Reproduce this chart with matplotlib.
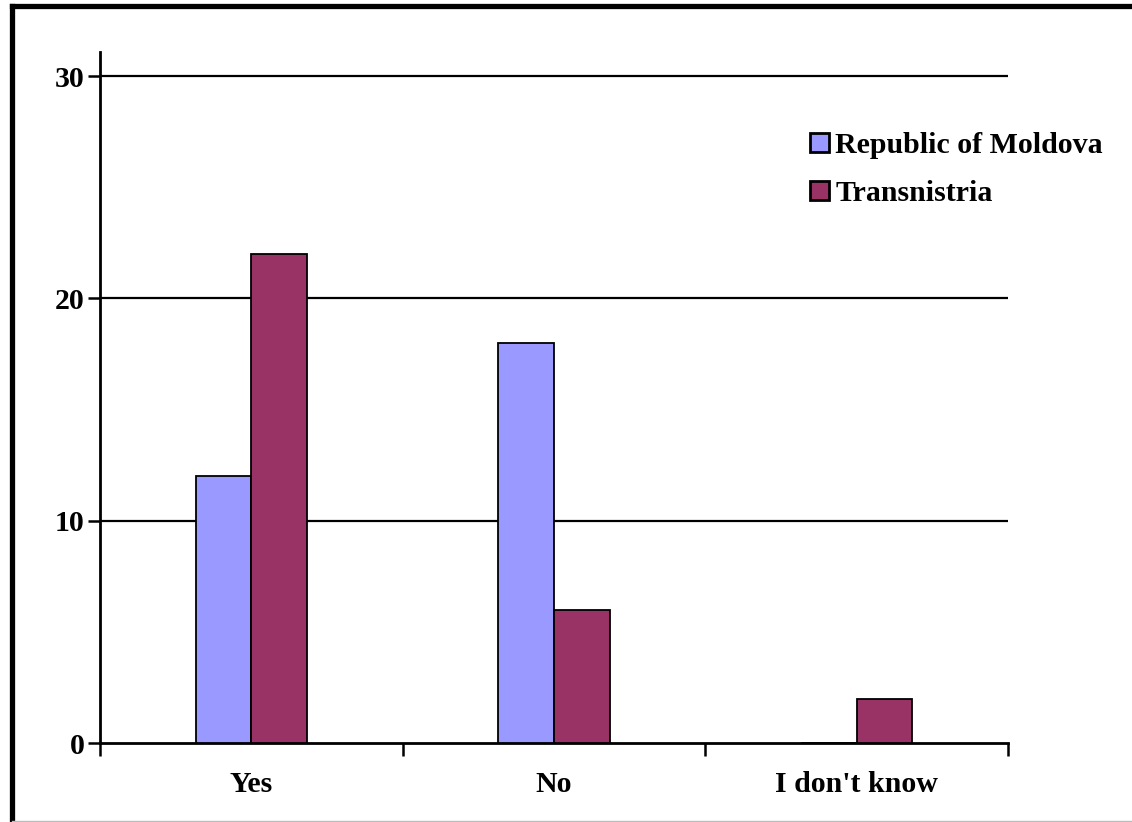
import matplotlib
matplotlib.use("Agg")
import matplotlib.pyplot as plt
from matplotlib.lines import Line2D
import numpy as np

categories = ["Yes", "No", "I don't know"]
series_names = ["Republic of Moldova", "Transnistria"]
moldova = [12, 18, 0]
transnistria = [22, 6, 2]
yticks = [0, 10, 20, 30]
colors = ["#9999FF", "#993366"]

plt.rcParams['font.family'] = ['Liberation Serif', 'DejaVu Serif']
plt.rcParams['font.weight'] = 'bold'

W, H = 1132, 822
fig = plt.figure(figsize=(W / 100, H / 100), dpi=100)
ax = fig.add_axes([100 / W, 1 - 743 / H, (1008 - 100) / W, (743 - 52) / H])

x = np.arange(len(categories))
bw = 0.184
ax.bar(x - bw / 2, moldova, bw, color=colors[0], edgecolor='black', linewidth=1.3,
       label=series_names[0], zorder=3)
ax.bar(x + bw / 2, transnistria, bw, color=colors[1], edgecolor='black', linewidth=1.3,
       label=series_names[1], zorder=3)

fs = 21.5
ax.set_xlim(-0.5, 2.5)
ax.set_ylim(0, 31.08)
ax.set_yticks(yticks)
ax.set_yticklabels([str(v) for v in yticks], fontsize=fs, fontweight='bold')
for v in yticks[1:]:
    ax.axhline(v, color='black', linewidth=1.6, zorder=1)

ax.set_xticks([-0.5, 0.5, 1.5, 2.5])
ax.set_xticklabels([])
ax.set_xticks(x, minor=True)
ax.set_xticklabels(categories, minor=True, fontsize=fs, fontweight='bold')
ax.tick_params(axis='x', which='minor', length=0, pad=20)
ax.tick_params(axis='x', which='major', direction='out', length=9, width=1.8)
ax.tick_params(axis='y', direction='out', length=9, width=1.8, pad=2)

for s in ['top', 'right']:
    ax.spines[s].set_visible(False)
for s in ['left', 'bottom']:
    ax.spines[s].set_linewidth(2.0)
ax.spines['left'].set_bounds(0, 31.08)

leg = ax.legend(loc='upper left', bbox_to_anchor=(810 / W, 1 - 132 / H),
                bbox_transform=fig.transFigure, frameon=False,
                prop={'family': 'Liberation Serif', 'weight': 'bold', 'size': fs},
                handlelength=0.62, handleheight=0.62, handletextpad=0.22,
                labelspacing=0.7, borderpad=0, borderaxespad=0)
for h in leg.legend_handles:
    h.set_linewidth(2.0)

# outer border
fig.add_artist(Line2D([11.5 / W, 11.5 / W], [0, 1 - 6.5 / H], transform=fig.transFigure,
                      color='black', linewidth=3.8, solid_capstyle='projecting'))
fig.add_artist(Line2D([11.5 / W, 1], [1 - 6.5 / H, 1 - 6.5 / H], transform=fig.transFigure,
                      color='black', linewidth=3.8, solid_capstyle='projecting'))
fig.add_artist(Line2D([11.5 / W, 1], [1 - 820.5 / H, 1 - 820.5 / H], transform=fig.transFigure,
                      color='#BBBBBB', linewidth=1.0))

fig.savefig("out.png", dpi=100)
